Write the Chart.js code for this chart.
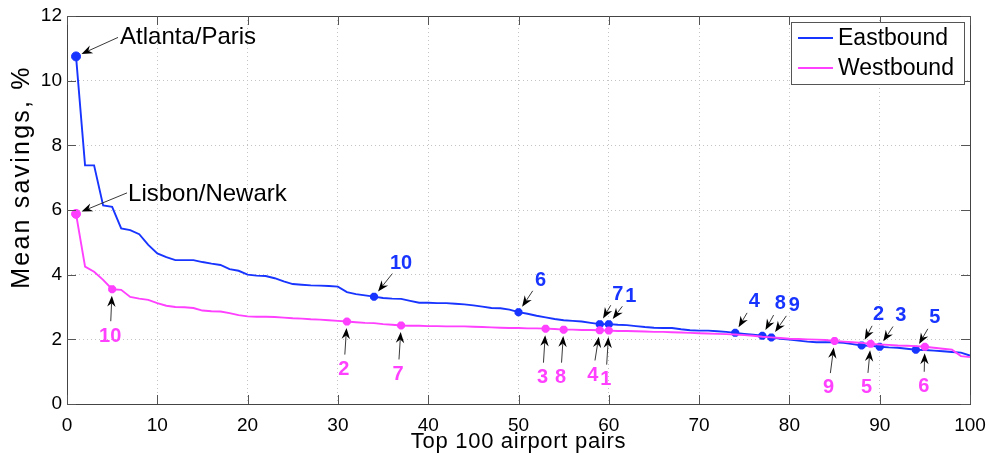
<!DOCTYPE html>
<html>
<head>
<meta charset="utf-8">
<script src="https://cdn.jsdelivr.net/npm/chart.js@4/dist/chart.umd.min.js"></script>
<style>
    html, body { margin: 0; padding: 0; background: #fff; }
    #wrap { width: 990px; height: 459px; }
</style>
</head>
<body>
<div id="wrap"><canvas id="savingsChart"></canvas></div>
<script>
// ----DATA----
// mean savings (%) for the top 100 airport pairs, sorted, rank 1..100
const eastbound = [
    10.75, 7.38, 7.38, 6.14, 6.10, 5.43, 5.38, 5.25, 4.92, 4.66,
    4.54, 4.45, 4.45, 4.45, 4.39, 4.34, 4.30, 4.17, 4.12, 4.00,
    3.97, 3.96, 3.89, 3.79, 3.71, 3.69, 3.67, 3.66, 3.65, 3.63,
    3.46, 3.40, 3.36, 3.32, 3.28, 3.26, 3.25, 3.19, 3.13, 3.13,
    3.12, 3.12, 3.10, 3.08, 3.05, 3.01, 2.97, 2.96, 2.92, 2.84,
    2.79, 2.73, 2.68, 2.63, 2.59, 2.57, 2.55, 2.51, 2.47, 2.47,
    2.45, 2.44, 2.41, 2.38, 2.36, 2.35, 2.35, 2.31, 2.28, 2.27,
    2.27, 2.25, 2.23, 2.20, 2.17, 2.14, 2.11, 2.06, 2.02, 1.99,
    1.96, 1.93, 1.91, 1.91, 1.91, 1.89, 1.85, 1.81, 1.80, 1.77,
    1.75, 1.74, 1.71, 1.68, 1.67, 1.65, 1.63, 1.61, 1.59, 1.50
];
const westbound = [
    5.88, 4.25, 4.09, 3.84, 3.55, 3.53, 3.31, 3.26, 3.22, 3.12,
    3.04, 3.00, 2.99, 2.97, 2.89, 2.87, 2.86, 2.81, 2.75, 2.71,
    2.70, 2.70, 2.69, 2.67, 2.65, 2.64, 2.62, 2.61, 2.59, 2.57,
    2.55, 2.53, 2.51, 2.50, 2.47, 2.45, 2.43, 2.42, 2.42, 2.41,
    2.41, 2.40, 2.40, 2.40, 2.39, 2.38, 2.37, 2.36, 2.35, 2.35,
    2.34, 2.34, 2.33, 2.32, 2.30, 2.30, 2.29, 2.29, 2.28, 2.27,
    2.26, 2.26, 2.25, 2.24, 2.23, 2.23, 2.22, 2.21, 2.20, 2.19,
    2.18, 2.17, 2.16, 2.15, 2.13, 2.11, 2.08, 2.06, 2.04, 2.02,
    2.01, 2.00, 1.99, 1.98, 1.95, 1.93, 1.91, 1.89, 1.86, 1.84,
    1.83, 1.81, 1.80, 1.79, 1.77, 1.74, 1.71, 1.68, 1.48, 1.45
];

// highlighted pairs (rank) and their numbers
const eastMarks = [34, 50, 59, 60, 74, 77, 78, 88, 90, 94];
const eastMarkLabels = ['10', '6', '7', '1', '4', '8', '9', '2', '3', '5'];
const westMarks = [5, 31, 37, 53, 55, 59, 60, 85, 89, 95];
const westMarkLabels = ['10', '2', '7', '3', '8', '4', '1', '9', '5', '6'];

// named extreme pairs (rank 1 of each series)
const eastTopName = 'Atlanta/Paris';
const westTopName = 'Lisbon/Newark';

const xTicks = [0, 10, 20, 30, 40, 50, 60, 70, 80, 90, 100];
const yTicks = [0, 2, 4, 6, 8, 10, 12];

// ----STYLE / LAYOUT----
const BLUE = 'rgb(24, 52, 255)';
const MAGENTA = 'rgb(255, 64, 255)';
const FONT = '"Liberation Sans", Arial, Helvetica, sans-serif';

// label offsets in pixels from the marked point
const eastLabelOffsets = [[27, -34], [22, -33], [18, -31], [22, -29], [19, -32],
                          [18, -33], [23, -33], [17, -32], [21, -32], [19, -33]];
const westLabelOffsets = [[-2, 46], [-3, 47], [-3, 48], [-3, 48], [-3, 47],
                          [-7, 44], [-3, 48], [-6, 46], [-4, 43], [-1, 39]];

function toPoints(values) {
    return values.map((v, i) => ({ x: i + 1, y: v }));
}

function markerRadius(marks) {
    return ctx => {
        const rank = ctx.dataIndex + 1;
        if (rank === 1) return 4.5;
        return marks.includes(rank) ? 4 : 0;
    };
}
function markerStyle(ctx) {
    return ctx.dataIndex === 0 ? 'circle' : 'star';
}
function markerBorder(ctx) {
    return ctx.dataIndex === 0 ? 1 : 3;
}

function drawArrow(ctx, tx, ty, hx, hy) {
    const ang = Math.atan2(hy - ty, hx - tx);
    const len = 11, half = 4.2, back = 7.5;
    ctx.save();
    ctx.strokeStyle = '#222';
    ctx.fillStyle = '#000';
    ctx.lineWidth = 0.9;
    ctx.beginPath();
    ctx.moveTo(tx, ty);
    ctx.lineTo(hx - Math.cos(ang) * back, hy - Math.sin(ang) * back);
    ctx.stroke();
    ctx.translate(hx, hy);
    ctx.rotate(ang);
    ctx.beginPath();
    ctx.moveTo(0, 0);
    ctx.lineTo(-len, -half);
    ctx.lineTo(-back, 0);
    ctx.lineTo(-len, half);
    ctx.closePath();
    ctx.fill();
    ctx.restore();
}

// arrow from label towards point, head stops short of the marker
function drawNumberNote(ctx, px, py, off, text, color) {
    const d = Math.hypot(off[0], off[1]);
    const ux = off[0] / d, uy = off[1] / d;
    const lx = px + off[0], ly = py + off[1];
    drawArrow(ctx, lx - ux * 14, ly - uy * 14, px + ux * 6.5, py + uy * 6.5);
    ctx.save();
    ctx.font = 'bold 20px ' + FONT;
    ctx.fillStyle = color;
    ctx.textAlign = 'center';
    ctx.textBaseline = 'middle';
    ctx.fillText(text, lx, ly + 1);
    ctx.restore();
}

function drawNameNote(ctx, px, py, textOff, tailOff, text) {
    const d = Math.hypot(tailOff[0], tailOff[1]);
    drawArrow(ctx, px + tailOff[0], py + tailOff[1],
              px + tailOff[0] / d * 6, py + tailOff[1] / d * 6);
    ctx.save();
    ctx.font = '24px ' + FONT;
    ctx.fillStyle = '#000';
    ctx.textAlign = 'left';
    ctx.textBaseline = 'middle';
    ctx.fillText(text, px + textOff[0], py + textOff[1]);
    ctx.restore();
}

const matlabFrame = {
    id: 'matlabFrame',
    afterDatasetsDraw(chart) {
        const ctx = chart.ctx;
        const xs = chart.scales.x, ys = chart.scales.y;

        // numbered notes
        eastMarks.forEach((rank, k) => {
            const px = xs.getPixelForValue(rank), py = ys.getPixelForValue(eastbound[rank - 1]);
            drawNumberNote(ctx, px, py, eastLabelOffsets[k], eastMarkLabels[k], BLUE);
        });
        westMarks.forEach((rank, k) => {
            const px = xs.getPixelForValue(rank), py = ys.getPixelForValue(westbound[rank - 1]);
            drawNumberNote(ctx, px, py, westLabelOffsets[k], westMarkLabels[k], MAGENTA);
        });

        // named notes
        drawNameNote(ctx, xs.getPixelForValue(1), ys.getPixelForValue(eastbound[0]),
                     [44, -19], [42, -19], eastTopName);
        drawNameNote(ctx, xs.getPixelForValue(1), ys.getPixelForValue(westbound[0]),
                     [52, -20], [51, -21], westTopName);
    },
    afterDraw(chart) {
        const ctx = chart.ctx;
        const xs = chart.scales.x, ys = chart.scales.y;
        const a = chart.chartArea;
        ctx.save();
        // box
        ctx.strokeStyle = '#444';
        ctx.lineWidth = 1;
        ctx.strokeRect(Math.round(a.left) + 0.5, Math.round(a.top) + 0.5,
                       Math.round(a.right - a.left), Math.round(a.bottom - a.top));
        // inward ticks on all sides
        ctx.strokeStyle = '#555';
        ctx.beginPath();
        xTicks.forEach(t => {
            const x = Math.round(xs.getPixelForValue(t)) + 0.5;
            ctx.moveTo(x, a.bottom); ctx.lineTo(x, a.bottom - 9);
            ctx.moveTo(x, a.top); ctx.lineTo(x, a.top + 9);
        });
        yTicks.forEach(t => {
            const y = Math.round(ys.getPixelForValue(t)) + 0.5;
            ctx.moveTo(a.left, y); ctx.lineTo(a.left + 9, y);
            ctx.moveTo(a.right, y); ctx.lineTo(a.right - 9, y);
        });
        ctx.stroke();

        // axis titles
        ctx.fillStyle = '#000';
        ctx.textAlign = 'center';
        ctx.textBaseline = 'middle';
        ctx.font = '22px ' + FONT;
        ctx.letterSpacing = '0.7px';
        ctx.fillText('Top 100 airport pairs', (a.left + a.right) / 2, 442);
        ctx.translate(22, 177);
        ctx.rotate(-Math.PI / 2);
        ctx.font = '25px ' + FONT;
        ctx.letterSpacing = '2.2px';
        ctx.fillText('Mean savings, %', 0, 0);
        ctx.restore();

        // legend box
        ctx.save();
        const bx = a.right - 179, by = a.top + 6, bw = 173, bh = 62;
        ctx.fillStyle = '#fff';
        ctx.fillRect(bx, by, bw, bh);
        ctx.strokeStyle = '#555';
        ctx.lineWidth = 1;
        ctx.strokeRect(Math.round(bx) + 0.5, Math.round(by) + 0.5, bw, bh);
        ctx.font = '23px ' + FONT;
        ctx.textAlign = 'left';
        ctx.textBaseline = 'middle';
        chart.data.datasets.forEach((ds, i) => {
            const ly = by + 16 + i * 30;
            ctx.strokeStyle = ds.borderColor;
            ctx.lineWidth = 2;
            ctx.beginPath();
            ctx.moveTo(bx + 7, ly); ctx.lineTo(bx + 42, ly);
            ctx.stroke();
            ctx.fillStyle = '#000';
            ctx.fillText(ds.label, bx + 47, ly + 1);
        });
        ctx.restore();
    }
};

const chartCtx = document.getElementById('savingsChart').getContext('2d');
new Chart(chartCtx, {
    type: 'line',
    data: {
        datasets: [{
            label: 'Eastbound',
            data: toPoints(eastbound),
            borderColor: BLUE,
            backgroundColor: BLUE,
            borderWidth: 1.9,
            pointRadius: markerRadius(eastMarks),
            pointStyle: markerStyle,
            pointBorderWidth: markerBorder,
            pointBorderColor: BLUE,
            pointBackgroundColor: BLUE,
            tension: 0,
            order: 1
        }, {
            label: 'Westbound',
            data: toPoints(westbound),
            borderColor: MAGENTA,
            backgroundColor: MAGENTA,
            borderWidth: 1.9,
            pointRadius: markerRadius(westMarks),
            pointStyle: markerStyle,
            pointBorderWidth: markerBorder,
            pointBorderColor: MAGENTA,
            pointBackgroundColor: MAGENTA,
            tension: 0,
            order: 0
        }]
    },
    options: {
        responsive: true,
        maintainAspectRatio: false,
        animation: false,
        layout: { padding: { top: 16, right: 20, left: 0, bottom: 0 } },
        plugins: {
            legend: { display: false },
            tooltip: { enabled: false }
        },
        scales: {
            x: {
                type: 'linear',
                min: 0,
                max: 100,
                afterBuildTicks: scale => { scale.ticks = xTicks.map(v => ({ value: v })); },
                afterFit: scale => {
                    scale.height = 55;
                    // label overflow is already covered by the layout padding
                    scale.paddingLeft = 0;
                    scale.paddingRight = 0;
                },
                ticks: {
                    font: { family: FONT, size: 19 },
                    color: '#000',
                    padding: 10,
                    maxRotation: 0
                },
                grid: { color: '#c4c4c4', lineWidth: 1, drawTicks: false },
                border: { display: false, dash: [1, 3] }
            },
            y: {
                min: 0,
                max: 12,
                afterBuildTicks: scale => { scale.ticks = yTicks.map(v => ({ value: v })); },
                afterFit: scale => {
                    scale.width = 67;
                    scale.paddingTop = 0;
                    scale.paddingBottom = 0;
                },
                ticks: {
                    font: { family: FONT, size: 19 },
                    color: '#000',
                    padding: 5
                },
                grid: { color: '#c4c4c4', lineWidth: 1, drawTicks: false },
                border: { display: false, dash: [1, 3] }
            }
        }
    },
    plugins: [matlabFrame]
});
</script>
</body>
</html>
